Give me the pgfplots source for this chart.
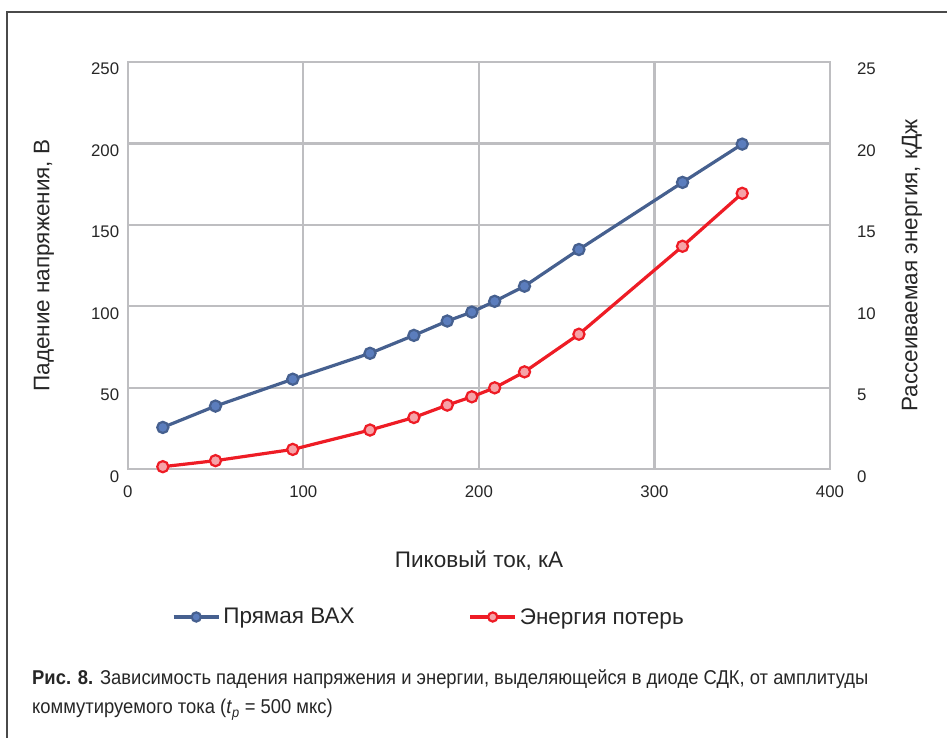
\documentclass[border=0pt]{standalone}
\usepackage{fontspec}
\setmainfont{Liberation Sans}
\newfontfamily\capfont[FakeStretch=0.92]{Liberation Sans}
\usepackage{pgfplots}
\pgfplotsset{compat=1.18}

\definecolor{gridgray}{HTML}{BEBEC1}
\definecolor{blueline}{HTML}{46608F}
\definecolor{bluefill}{HTML}{5B7DBD}
\definecolor{redline}{HTML}{EE1C25}
\definecolor{redfill}{HTML}{F6A3A8}
\definecolor{framegray}{HTML}{4A4A4A}
\definecolor{txt}{HTML}{262626}

% peak current, kA
\pgfplotstableread{
I    U     E
20   25.7  0.16
50   38.8  0.53
94   55.3  1.22
138  71.2  2.41
163  82.2  3.18
182  91.0  3.94
196  96.5  4.45
209  103.1 5.00
226  112.4 5.98
257  134.9 8.29
316  176.1 13.69
350  199.6 16.94
}\diodedata

\pgfplotsset{
  common/.style={
    at={(127.7pt,268.7pt)}, anchor=south west,
    scale only axis, width=702.3pt, height=407.3pt,
    xmin=0, xmax=400,
    tick style={draw=none},
    /pgf/number format/assume math mode=true,
    tick label style={font=\fontsize{16.8}{18}\selectfont, text=txt},
    axis line style={gridgray, line width=2.2pt},
  },
  blueseries/.style={blueline, line width=3.2pt, mark=*, mark size=5.6pt,
    mark options={fill=bluefill, draw=blueline, line width=2.2pt}},
  redseries/.style={redline, line width=3.2pt, mark=*, mark size=5.6pt,
    mark options={fill=redfill, draw=redline, line width=2.2pt}},
}

\begin{document}
\begin{tikzpicture}[x=1pt,y=1pt]
\useasboundingbox (0,0) rectangle (947,738);
\draw[framegray, line width=2pt] (7.3,0) -- (7.3,726) -- (947,726);

\begin{axis}[common,
  ymin=0, ymax=250,
  xtick={0,100,...,400}, ytick={0,50,...,250},
  grid=major, major grid style={gridgray, line width=2.2pt},
  xticklabel style={yshift=-13pt},
  yticklabel style={yshift=-7pt, xshift=-5pt},
  legend columns=2,
  legend style={at={(0.063,-0.3626)}, anchor=west, draw=none, fill=none,
    inner sep=0pt, font=\fontsize{22.5}{26}\selectfont, text=txt,
    nodes={inner sep=3pt},
    /tikz/every even column/.append style={column sep=111pt}},
  legend image code/.code={\draw[mark repeat=2, mark phase=2, mark size=4.6pt]
    plot coordinates {(0pt,0pt) (22.5pt,0pt) (45pt,0pt)};},
]
\addplot[blueseries] table[x=I, y=U] {\diodedata};
\addlegendentry{Прямая ВАХ}
\addlegendimage{redseries}
\addlegendentry{Энергия потерь}
\end{axis}

\begin{axis}[common,
  ymin=0, ymax=25, ytick={0,5,...,25},
  axis y line*=right, axis x line=none,
  yticklabel style={yshift=-7pt, xshift=23.5pt},
]
\addplot[redseries] table[x=I, y=E] {\diodedata};
\end{axis}

% axis titles
\node[text=txt, font=\fontsize{22.5}{26}\selectfont, rotate=90] at (44,472.4) {Падение напряжения, В};
\node[text=txt, font=\fontsize{22.5}{26}\selectfont, rotate=90] at (912,472.4) {Рассеиваемая энергия, кДж};
\node[text=txt, font=\fontsize{22.5}{26}\selectfont] at (479,177) {Пиковый ток, кА};

% caption
\node[anchor=base west, inner sep=0pt, text=txt] at (32,53)
  {\capfont\fontsize{20}{24}\selectfont\textbf{Рис. 8.} Зависимость падения напряжения и энергии, выделяющейся в диоде СДК, от амплитуды};
\node[anchor=base west, inner sep=0pt, text=txt] at (32,24)
  {\capfont\fontsize{20}{24}\selectfont коммутируемого тока (\textit{t}\textsubscript{\textit{p}} = 500 мкс)};
\end{tikzpicture}
\end{document}
